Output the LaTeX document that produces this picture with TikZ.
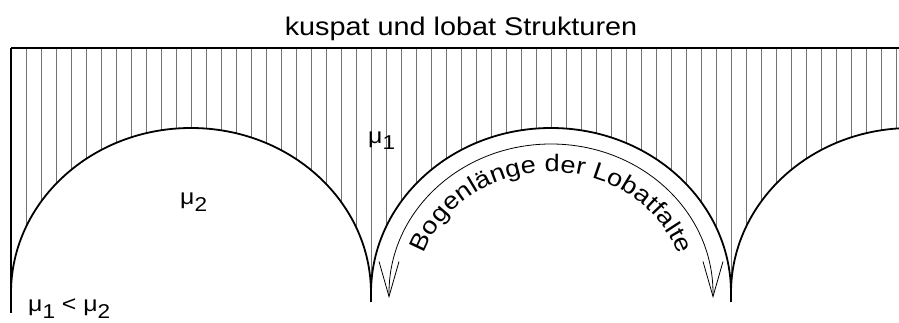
\documentclass[tikz,border=0pt]{standalone}
\usepackage{fontspec}
\setmainfont{Liberation Sans}
\newfontfamily\stretchfont[FakeStretch=1.13]{Liberation Sans}
\usetikzlibrary{decorations.text,arrows.meta}
\newcommand\arcfont{\stretchfont\fontsize{24}{26}\selectfont}
\newcommand\lsub[1]{\raisebox{-6.5pt}{\fontsize{20}{20}\selectfont #1}}
\begin{document}
\begin{tikzpicture}[x=1pt,y=1pt,
  hatch/.style={black!55, line width=0.8pt},
  mainarc/.style={line width=1.8pt},
  thinarc/.style={line width=0.8pt},
  barb/.tip={Straight Barb[length=35pt,width=20pt,line width=0.8pt]},
  lab/.style={inner sep=0pt, font=\stretchfont\fontsize{22}{24}\selectfont}]
\useasboundingbox (0,0) rectangle (899,323);
\fill[white] (0,0) rectangle (899,323);
% hatching
\foreach \i in {1,...,59} \draw[hatch] ({11+15*\i},275) -- ({11+15*\i},30);
% white lobes
\fill[white] (191,30) ellipse [x radius=180, y radius=165];
\fill[white] (551,30) ellipse [x radius=180, y radius=165];
\fill[white] (911,30) ellipse [x radius=180, y radius=165];
% lobe outlines
\draw[mainarc] (11,30) arc[start angle=180,end angle=0,x radius=180,y radius=165];
\draw[mainarc] (371,30) arc[start angle=180,end angle=0,x radius=180,y radius=165];
\draw[mainarc] (731,30) arc[start angle=180,end angle=93.8,x radius=180,y radius=165];
\draw[mainarc] (371,31) -- (371,21);
\draw[mainarc] (731,31) -- (731,21);
% frame
\draw[line width=1.8pt] (11,275) -- (899,275);
\draw[line width=1.5pt] (11,275) -- (11,10);
% arc length arrow
\coordinate (aL) at (389,25);
\coordinate (aR) at (713,25);
\draw[thinarc, barb-barb] (aL) -- ++(0,5) arc[start angle=180,end angle=0,x radius=162,y radius=149] -- (aR);
\path[decorate, decoration={text along path, text={|\arcfont|Bogenlänge der Lobatfalte}, text align={fit to path}}]
  (424.3,69.4) arc[start angle=161,end angle=18.5,x radius=134,y radius=121];
% labels
\node[anchor=base, inner sep=0pt, font=\stretchfont\fontsize{25.5}{30}\selectfont] (title) at (461,287) {kuspat und lobat Strukturen};
\node[lab, anchor=base west] (mu1) at (368,179.5) {μ\lsub{1}};
\node[lab, anchor=base west] (mu2) at (180,118) {μ\lsub{2}};
\node[lab, anchor=base west] (rel) at (28,11.3) {μ\lsub{1} < μ\lsub{2}};
\end{tikzpicture}
\end{document}
